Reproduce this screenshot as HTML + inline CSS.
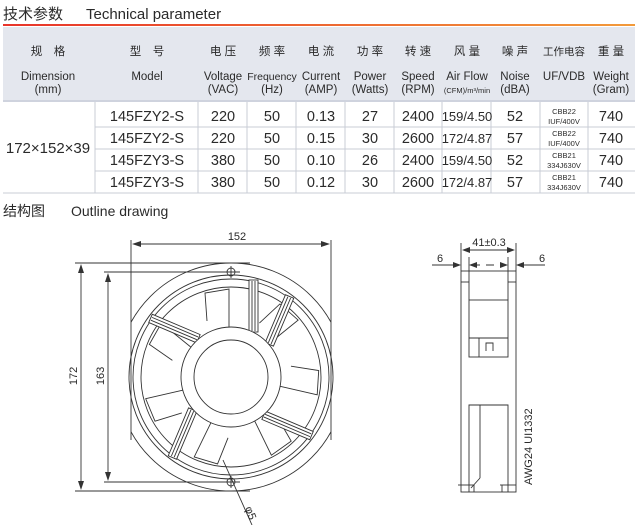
<!DOCTYPE html>
<html><head><meta charset="utf-8"><style>
html,body{margin:0;padding:0;background:#fff;}
body{width:635px;height:525px;overflow:hidden;position:relative;font-family:"Liberation Sans","Noto Sans CJK SC",sans-serif;color:#2a2a2a;}
svg{position:absolute;left:0;top:0;}
</style></head><body>
<svg width="635" height="525" viewBox="0 0 635 525" font-family="Liberation Sans, Noto Sans CJK SC, sans-serif" fill="#2a2a2a">
<defs>
<linearGradient id="rl" x1="0" x2="1"><stop offset="0" stop-color="#e8342a"/><stop offset="1" stop-color="#f29a3a"/></linearGradient>
<clipPath id="cl"><rect x="131" y="250" width="200" height="250"/></clipPath>
</defs>
<text x="3" y="19" font-size="15">技术参数</text>
<text x="86" y="19" font-size="15">Technical parameter</text>
<rect x="3" y="24" width="632" height="2" fill="url(#rl)"/>
<rect x="3" y="27" width="632" height="73" fill="#e4e7ee"/>
<rect x="3" y="100" width="632" height="2" fill="#cfd3de"/>
<g font-size="11.5" text-anchor="middle">
<text x="48" y="55">规　格</text><text x="48" y="80">Dimension</text><text x="48" y="93">(mm)</text>
<text x="147" y="55">型　号</text><text x="147" y="80">Model</text>
<text x="223" y="55">电 压</text><text x="223" y="80">Voltage</text><text x="223" y="93">(VAC)</text>
<text x="272" y="55">频 率</text><text x="272" y="80" font-size="10.5">Frequency</text><text x="272" y="93">(Hz)</text>
<text x="321" y="55">电 流</text><text x="321" y="80">Current</text><text x="321" y="93">(AMP)</text>
<text x="370" y="55">功 率</text><text x="370" y="80">Power</text><text x="370" y="93">(Watts)</text>
<text x="418" y="55">转 速</text><text x="418" y="80">Speed</text><text x="418" y="93">(RPM)</text>
<text x="467" y="55">风 量</text><text x="467" y="80">Air Flow</text><text x="467" y="93" font-size="7.5">(CFM)/m³/min</text>
<text x="515" y="55">噪 声</text><text x="515" y="80">Noise</text><text x="515" y="93">(dBA)</text>
<text x="564" y="55" font-size="10.5">工作电容</text><text x="564" y="80">UF/VDB</text>
<text x="611" y="55">重 量</text><text x="611" y="80">Weight</text><text x="611" y="93">(Gram)</text>
</g>
<g stroke="#c8ccd6" stroke-width="1">
<line x1="95" y1="127" x2="635" y2="127"/><line x1="95" y1="149" x2="635" y2="149"/><line x1="95" y1="171" x2="635" y2="171"/>
<line x1="3" y1="193" x2="635" y2="193"/>
<line x1="95" y1="102" x2="95" y2="193"/><line x1="198" y1="102" x2="198" y2="193"/><line x1="247" y1="102" x2="247" y2="193"/>
<line x1="296" y1="102" x2="296" y2="193"/><line x1="345" y1="102" x2="345" y2="193"/><line x1="394" y1="102" x2="394" y2="193"/>
<line x1="442" y1="102" x2="442" y2="193"/><line x1="491" y1="102" x2="491" y2="193"/><line x1="540" y1="102" x2="540" y2="193"/>
<line x1="588" y1="102" x2="588" y2="193"/>
</g>
<text x="48" y="153" font-size="15" text-anchor="middle">172×152×39</text>
<g font-size="14.5" text-anchor="middle">
<text x="147" y="121">145FZY2-S</text><text x="223" y="121">220</text><text x="272" y="121">50</text><text x="321" y="121">0.13</text><text x="370" y="121">27</text><text x="418" y="121">2400</text><text x="467" y="121" font-size="13">159/4.50</text><text x="515" y="121">52</text><text x="611" y="121">740</text>
<text x="147" y="143">145FZY2-S</text><text x="223" y="143">220</text><text x="272" y="143">50</text><text x="321" y="143">0.15</text><text x="370" y="143">30</text><text x="418" y="143">2600</text><text x="467" y="143" font-size="13">172/4.87</text><text x="515" y="143">57</text><text x="611" y="143">740</text>
<text x="147" y="165">145FZY3-S</text><text x="223" y="165">380</text><text x="272" y="165">50</text><text x="321" y="165">0.10</text><text x="370" y="165">26</text><text x="418" y="165">2400</text><text x="467" y="165" font-size="13">159/4.50</text><text x="515" y="165">52</text><text x="611" y="165">740</text>
<text x="147" y="187">145FZY3-S</text><text x="223" y="187">380</text><text x="272" y="187">50</text><text x="321" y="187">0.12</text><text x="370" y="187">30</text><text x="418" y="187">2600</text><text x="467" y="187" font-size="13">172/4.87</text><text x="515" y="187">57</text><text x="611" y="187">740</text>
</g>
<g font-size="7.5" text-anchor="middle">
<text x="564" y="114">CBB22</text><text x="564" y="124">IUF/400V</text>
<text x="564" y="136">CBB22</text><text x="564" y="146">IUF/400V</text>
<text x="564" y="158">CBB21</text><text x="564" y="168">334J630V</text>
<text x="564" y="180">CBB21</text><text x="564" y="190">334J630V</text>
</g>
<text x="3" y="216" font-size="14">结构图</text>
<text x="71" y="216" font-size="14">Outline drawing</text>

<!-- fan front -->
<g fill="none" stroke="#333" stroke-width="0.9">
<circle cx="231" cy="377" r="114" clip-path="url(#cl)"/>
<line x1="131" y1="315" x2="131" y2="440"/><line x1="331" y1="315" x2="331" y2="440"/>
<circle cx="231" cy="377" r="102"/><circle cx="231" cy="377" r="98"/>
<g transform="translate(231,377)">
<g id="bl"><path d="M-2,-50 L-2,-88 L-26,-84 L-24,-56" fill="#fff"/></g>
<use href="#bl" transform="rotate(51)"/><use href="#bl" transform="rotate(103)"/><use href="#bl" transform="rotate(154)"/>
<use href="#bl" transform="rotate(206)"/><use href="#bl" transform="rotate(257)"/><use href="#bl" transform="rotate(309)"/>
</g>
<circle cx="231" cy="377" r="90"/>
<g transform="translate(231,377)">
<g id="st"><rect x="18" y="-97" width="9" height="52" fill="#fff"/><line x1="21" y1="-46" x2="21" y2="-96"/><line x1="24" y1="-46" x2="24" y2="-96"/></g>
<use href="#st" transform="rotate(-67)"/><use href="#st" transform="rotate(23)"/><use href="#st" transform="rotate(113)"/><use href="#st" transform="rotate(203)"/>
</g>
<circle cx="231" cy="377" r="50" fill="#fff"/><circle cx="231" cy="377" r="37"/>
<circle cx="231" cy="272" r="4"/><circle cx="231" cy="482" r="4"/>
<line x1="231" y1="266" x2="231" y2="278"/><line x1="231" y1="476" x2="231" y2="488"/>
<line x1="75" y1="263" x2="250" y2="263"/><line x1="75" y1="491" x2="250" y2="491"/>
<line x1="104" y1="272" x2="240" y2="272"/><line x1="104" y1="482" x2="240" y2="482"/>
<line x1="131" y1="240" x2="131" y2="315"/><line x1="331" y1="240" x2="331" y2="315"/>
<line x1="136" y1="244" x2="328" y2="244"/>
<line x1="81" y1="266" x2="81" y2="488"/><line x1="108" y1="275" x2="108" y2="479"/>
<line x1="223" y1="460" x2="252" y2="525"/>
</g>
<g fill="#333"><path d="M81,264 l-3,9 h6z"/><path d="M81,490 l-3,-9 h6z"/><path d="M108,273 l-3,9 h6z"/><path d="M108,481 l-3,-9 h6z"/>
<path d="M132,244 l9,-3 v6z"/><path d="M330,244 l-9,-3 v6z"/></g>
<text x="237" y="240" font-size="11" text-anchor="middle">152</text>
<text font-size="11" transform="translate(77,376) rotate(-90)" text-anchor="middle">172</text>
<text font-size="11" transform="translate(104,376) rotate(-90)" text-anchor="middle">163</text>
<text font-size="11" transform="translate(245,508) rotate(70)">φ5</text>

<!-- side view -->
<g fill="none" stroke="#333" stroke-width="0.9">
<rect x="461" y="271" width="55" height="221"/>
<line x1="469" y1="257" x2="469" y2="300"/><line x1="508" y1="257" x2="508" y2="300"/>
<line x1="461" y1="243" x2="461" y2="271"/><line x1="516" y1="243" x2="516" y2="271"/>
<line x1="461" y1="282" x2="469" y2="282"/><line x1="508" y1="282" x2="516" y2="282"/>
<rect x="469" y="300" width="39" height="57"/>
<line x1="469" y1="338" x2="508" y2="338"/><line x1="479" y1="338" x2="479" y2="357"/>
<path d="M486,351 v-8 h7 v8"/>
<path d="M469,492 V405 H508 V492"/><line x1="480" y1="405" x2="480" y2="478"/><line x1="480" y1="478" x2="471" y2="488"/>
<line x1="458" y1="485" x2="474" y2="485"/><line x1="500" y1="485" x2="516" y2="485"/>
<line x1="474" y1="485" x2="474" y2="492"/><line x1="502" y1="485" x2="502" y2="492"/>
<line x1="464" y1="250" x2="513" y2="250"/>
<line x1="432" y1="265" x2="458" y2="265"/><line x1="519" y1="265" x2="545" y2="265"/>
<line x1="472" y1="265" x2="505" y2="265" stroke-dasharray="8,6"/>
</g>
<g fill="#333"><path d="M462,250 l8,-3 v6z"/><path d="M515,250 l-8,-3 v6z"/><path d="M461,265 l-8,-3 v6z"/><path d="M516,265 l8,-3 v6z"/>
<path d="M469,265 l8,-3 v6z"/><path d="M508,265 l-8,-3 v6z"/></g>
<text x="489" y="246" font-size="11" text-anchor="middle">41±0.3</text>
<text x="440" y="262" font-size="11" text-anchor="middle">6</text>
<text x="542" y="262" font-size="11" text-anchor="middle">6</text>
<text font-size="11" transform="translate(532,485) rotate(-90)">AWG24 UI1332</text>
</svg>
</body></html>
